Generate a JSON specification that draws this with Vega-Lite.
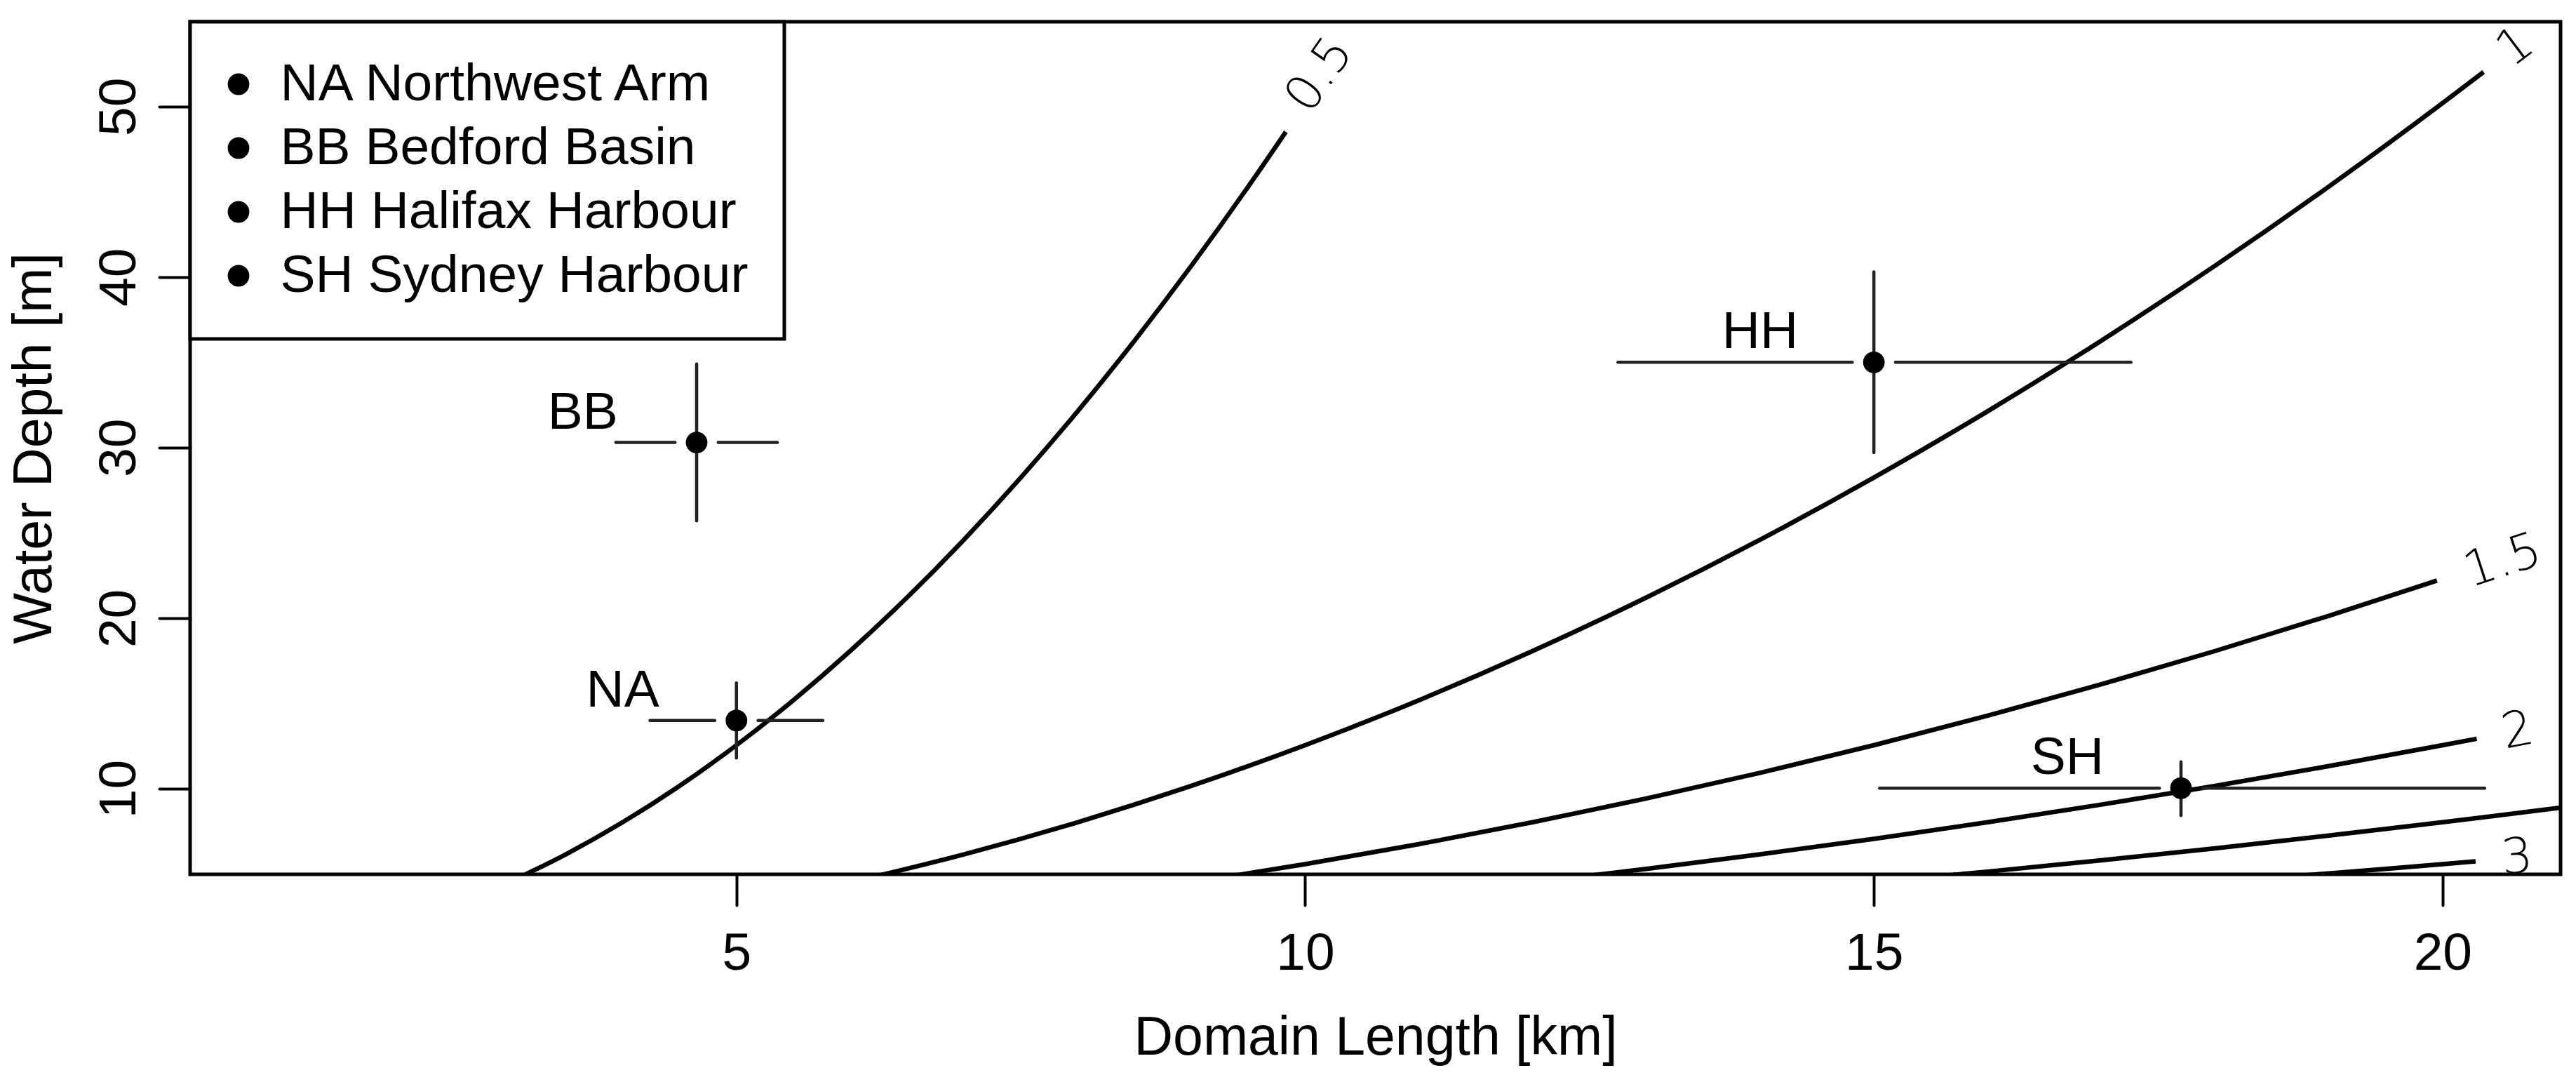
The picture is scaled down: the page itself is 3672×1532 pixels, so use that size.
{
  "$schema": "https://vega.github.io/schema/vega-lite/v6.json",
  "autosize": {"type": "none"},
  "padding": {"left": 271, "top": 31, "right": 22, "bottom": 286},
  "width": 3379,
  "height": 1215,
  "background": "white",
  "datasets": {
    "contours": [
      {"c": "0.5", "L": 3.1, "H": 4.824}, {"c": "0.5", "L": 3.5, "H": 6.15}, {"c": "0.5", "L": 4, "H": 8.032},
      {"c": "0.5", "L": 4.5, "H": 10.166}, {"c": "0.5", "L": 5, "H": 12.55}, {"c": "0.5", "L": 5.5, "H": 15.186},
      {"c": "0.5", "L": 6, "H": 18.072}, {"c": "0.5", "L": 6.5, "H": 21.21}, {"c": "0.5", "L": 7, "H": 24.598},
      {"c": "0.5", "L": 7.5, "H": 28.238}, {"c": "0.5", "L": 8, "H": 32.128}, {"c": "0.5", "L": 8.5, "H": 36.27},
      {"c": "0.5", "L": 9, "H": 40.662}, {"c": "0.5", "L": 9.5, "H": 45.306}, {"c": "0.5", "L": 9.83, "H": 48.51},
      {"c": "1", "L": 6.2, "H": 4.824}, {"c": "1", "L": 7, "H": 6.15}, {"c": "1", "L": 8, "H": 8.032},
      {"c": "1", "L": 9, "H": 10.166}, {"c": "1", "L": 10, "H": 12.55}, {"c": "1", "L": 11, "H": 15.186},
      {"c": "1", "L": 12, "H": 18.072}, {"c": "1", "L": 13, "H": 21.21}, {"c": "1", "L": 14, "H": 24.598},
      {"c": "1", "L": 15, "H": 28.238}, {"c": "1", "L": 16, "H": 32.128}, {"c": "1", "L": 17, "H": 36.27},
      {"c": "1", "L": 18, "H": 40.662}, {"c": "1", "L": 19, "H": 45.306}, {"c": "1", "L": 20, "H": 50.2},
      {"c": "1", "L": 20.36, "H": 52.02},
      {"c": "1.5", "L": 9.3, "H": 4.824}, {"c": "1.5", "L": 10, "H": 5.578}, {"c": "1.5", "L": 11, "H": 6.749},
      {"c": "1.5", "L": 12, "H": 8.032}, {"c": "1.5", "L": 13, "H": 9.427}, {"c": "1.5", "L": 14, "H": 10.933},
      {"c": "1.5", "L": 15, "H": 12.55}, {"c": "1.5", "L": 16, "H": 14.28}, {"c": "1.5", "L": 17, "H": 16.12},
      {"c": "1.5", "L": 18, "H": 18.073}, {"c": "1.5", "L": 19, "H": 20.137}, {"c": "1.5", "L": 19.95, "H": 22.2},
      {"c": "2", "L": 12.4, "H": 4.824}, {"c": "2", "L": 13, "H": 5.302}, {"c": "2", "L": 14, "H": 6.15},
      {"c": "2", "L": 15, "H": 7.059}, {"c": "2", "L": 16, "H": 8.032}, {"c": "2", "L": 17, "H": 9.067},
      {"c": "2", "L": 18, "H": 10.166}, {"c": "2", "L": 19, "H": 11.326}, {"c": "2", "L": 20, "H": 12.55},
      {"c": "2", "L": 20.3, "H": 12.929},
      {"c": "2.5", "L": 15.5, "H": 4.824}, {"c": "2.5", "L": 16, "H": 5.14}, {"c": "2.5", "L": 17, "H": 5.803},
      {"c": "2.5", "L": 18, "H": 6.506}, {"c": "2.5", "L": 19, "H": 7.249}, {"c": "2.5", "L": 20, "H": 8.032},
      {"c": "2.5", "L": 21, "H": 8.855}, {"c": "2.5", "L": 21.5, "H": 9.282},
      {"c": "3", "L": 18.6, "H": 4.824}, {"c": "3", "L": 19, "H": 5.034}, {"c": "3", "L": 19.5, "H": 5.302},
      {"c": "3", "L": 20, "H": 5.578}, {"c": "3", "L": 20.29, "H": 5.74}
    ],
    "sites": [
      {"site": "NA", "name": "NA Northwest Arm", "x": 5.0, "y": 14.0, "xlo": 4.24, "xhi": 5.76, "gl": 4.81, "gr": 5.19, "ylo": 11.8, "yhi": 16.2, "lx": 4.0},
      {"site": "BB", "name": "BB Bedford Basin", "x": 4.65, "y": 30.3, "xlo": 3.94, "xhi": 5.36, "gl": 4.46, "gr": 4.84, "ylo": 25.7, "yhi": 34.9, "lx": 3.65},
      {"site": "HH", "name": "HH Halifax Harbour", "x": 15.0, "y": 35.0, "xlo": 12.75, "xhi": 17.26, "gl": 14.81, "gr": 15.19, "ylo": 29.7, "yhi": 40.3, "lx": 14.0},
      {"site": "SH", "name": "SH Sydney Harbour", "x": 17.7, "y": 10.03, "xlo": 15.05, "xhi": 20.37, "gl": 17.51, "gr": 17.89, "ylo": 8.43, "yhi": 11.57, "lx": 16.7}
    ],
    "clabels": [
      {"label": "0.5", "L": 10.13, "H": 51.84},
      {"label": "1", "L": 20.64, "H": 53.48},
      {"label": "1.5", "L": 20.53, "H": 23.33},
      {"label": "2", "L": 20.66, "H": 13.37},
      {"label": "3", "L": 20.655, "H": 5.93}
    ]
  },
  "layer": [
    {
      "data": {"name": "contours"},
      "mark": {"type": "line", "color": "black", "strokeWidth": 6.5, "interpolate": "monotone", "clip": true},
      "encoding": {
        "x": {"field": "L", "type": "quantitative", "scale": {"domain": [0.197, 21.037], "nice": false, "zero": false},
          "axis": {"values": [5, 10, 15, 20], "format": "d", "title": "Domain Length [km]", "labelBaseline": "alphabetic", "labelPadding": 91, "titleBaseline": "alphabetic", "titlePadding": 106}},
        "y": {"field": "H", "type": "quantitative", "scale": {"domain": [4.98, 54.965], "nice": false, "zero": false},
          "axis": {"values": [10, 20, 30, 40, 50], "format": "d", "title": "Water Depth [m]", "labelAngle": -90, "labelAlign": "center", "labelBaseline": "alphabetic", "labelPadding": 35, "titleBaseline": "alphabetic", "titlePadding": 60}},
        "detail": {"field": "c"}
      }
    },
    {
      "data": {"name": "sites"},
      "mark": {"type": "rule", "color": "#222222", "strokeWidth": 4.5, "strokeCap": "round"},
      "encoding": {
        "x": {"field": "xlo", "type": "quantitative"},
        "x2": {"field": "gl"},
        "y": {"field": "y", "type": "quantitative"}
      }
    },
    {
      "data": {"name": "sites"},
      "mark": {"type": "rule", "color": "#222222", "strokeWidth": 4.5, "strokeCap": "round"},
      "encoding": {
        "x": {"field": "gr", "type": "quantitative"},
        "x2": {"field": "xhi"},
        "y": {"field": "y", "type": "quantitative"}
      }
    },
    {
      "data": {"name": "sites"},
      "mark": {"type": "rule", "color": "#222222", "strokeWidth": 4.5, "strokeCap": "round"},
      "encoding": {
        "x": {"field": "x", "type": "quantitative"},
        "y": {"field": "ylo", "type": "quantitative"},
        "y2": {"field": "yhi"}
      }
    },
    {
      "data": {"name": "sites"},
      "mark": {"type": "point", "shape": "circle", "filled": true, "size": 950, "opacity": 1},
      "encoding": {
        "x": {"field": "x", "type": "quantitative"},
        "y": {"field": "y", "type": "quantitative"},
        "color": {
          "field": "name", "type": "nominal",
          "scale": {"domain": ["NA Northwest Arm", "BB Bedford Basin", "HH Halifax Harbour", "SH Sydney Harbour"], "range": ["black", "black", "black", "black"]},
          "legend": {
            "title": null, "orient": "none", "legendX": 0, "legendY": 0, "direction": "vertical",
            "padding": 51.5, "rowPadding": 15, "labelOffset": 22, "symbolOffset": -20, "labelLimit": 2000,
            "symbolType": "circle", "symbolSize": 950, "symbolStrokeWidth": 0, "symbolOpacity": 1,
            "labelFont": "Liberation Sans", "labelFontSize": 75, "labelColor": "black",
            "fillColor": "white", "strokeColor": "black",
            "encode": {"legend": {"update": {"strokeWidth": {"value": 5}}}}
          }
        }
      }
    },
    {
      "data": {"name": "sites"},
      "mark": {"type": "text", "font": "Liberation Sans", "fontSize": 75, "color": "black", "align": "center", "baseline": "alphabetic", "dy": -20},
      "encoding": {
        "x": {"field": "lx", "type": "quantitative"},
        "y": {"field": "y", "type": "quantitative"},
        "text": {"field": "site"}
      }
    },
    {
      "data": {"name": "clabels"},
      "transform": [{"filter": "datum.label == '0.5'"}],
      "mark": {"type": "text", "font": "DejaVu Sans", "fontWeight": 200, "fontSize": 70, "color": "black", "align": "center", "baseline": "middle", "angle": -55, "clip": true},
      "encoding": {"x": {"field": "L", "type": "quantitative"}, "y": {"field": "H", "type": "quantitative"}, "text": {"field": "label"}}
    },
    {
      "data": {"name": "clabels"},
      "transform": [{"filter": "datum.label == '1'"}],
      "mark": {"type": "text", "font": "DejaVu Sans", "fontWeight": 200, "fontSize": 70, "color": "black", "align": "center", "baseline": "middle", "angle": -37, "clip": true},
      "encoding": {"x": {"field": "L", "type": "quantitative"}, "y": {"field": "H", "type": "quantitative"}, "text": {"field": "label"}}
    },
    {
      "data": {"name": "clabels"},
      "transform": [{"filter": "datum.label == '1.5'"}],
      "mark": {"type": "text", "font": "DejaVu Sans", "fontWeight": 200, "fontSize": 70, "color": "black", "align": "center", "baseline": "middle", "angle": -18, "clip": true},
      "encoding": {"x": {"field": "L", "type": "quantitative"}, "y": {"field": "H", "type": "quantitative"}, "text": {"field": "label"}}
    },
    {
      "data": {"name": "clabels"},
      "transform": [{"filter": "datum.label == '2'"}],
      "mark": {"type": "text", "font": "DejaVu Sans", "fontWeight": 200, "fontSize": 70, "color": "black", "align": "center", "baseline": "middle", "angle": -11, "clip": true},
      "encoding": {"x": {"field": "L", "type": "quantitative"}, "y": {"field": "H", "type": "quantitative"}, "text": {"field": "label"}}
    },
    {
      "data": {"name": "clabels"},
      "transform": [{"filter": "datum.label == '3'"}],
      "mark": {"type": "text", "font": "DejaVu Sans", "fontWeight": 200, "fontSize": 70, "color": "black", "align": "center", "baseline": "middle", "angle": -5, "clip": true},
      "encoding": {"x": {"field": "L", "type": "quantitative"}, "y": {"field": "H", "type": "quantitative"}, "text": {"field": "label"}}
    }
  ],
  "config": {
    "view": {"stroke": "black", "strokeWidth": 5, "fill": "white"},
    "axis": {
      "domain": false, "grid": false,
      "ticks": true, "tickColor": "black", "tickWidth": 4, "tickSize": 44, "tickCap": "round",
      "labelFont": "Liberation Sans", "labelFontSize": 75, "labelColor": "black",
      "titleFont": "Liberation Sans", "titleFontSize": 77, "titleFontWeight": "normal", "titleColor": "black"
    }
  }
}
